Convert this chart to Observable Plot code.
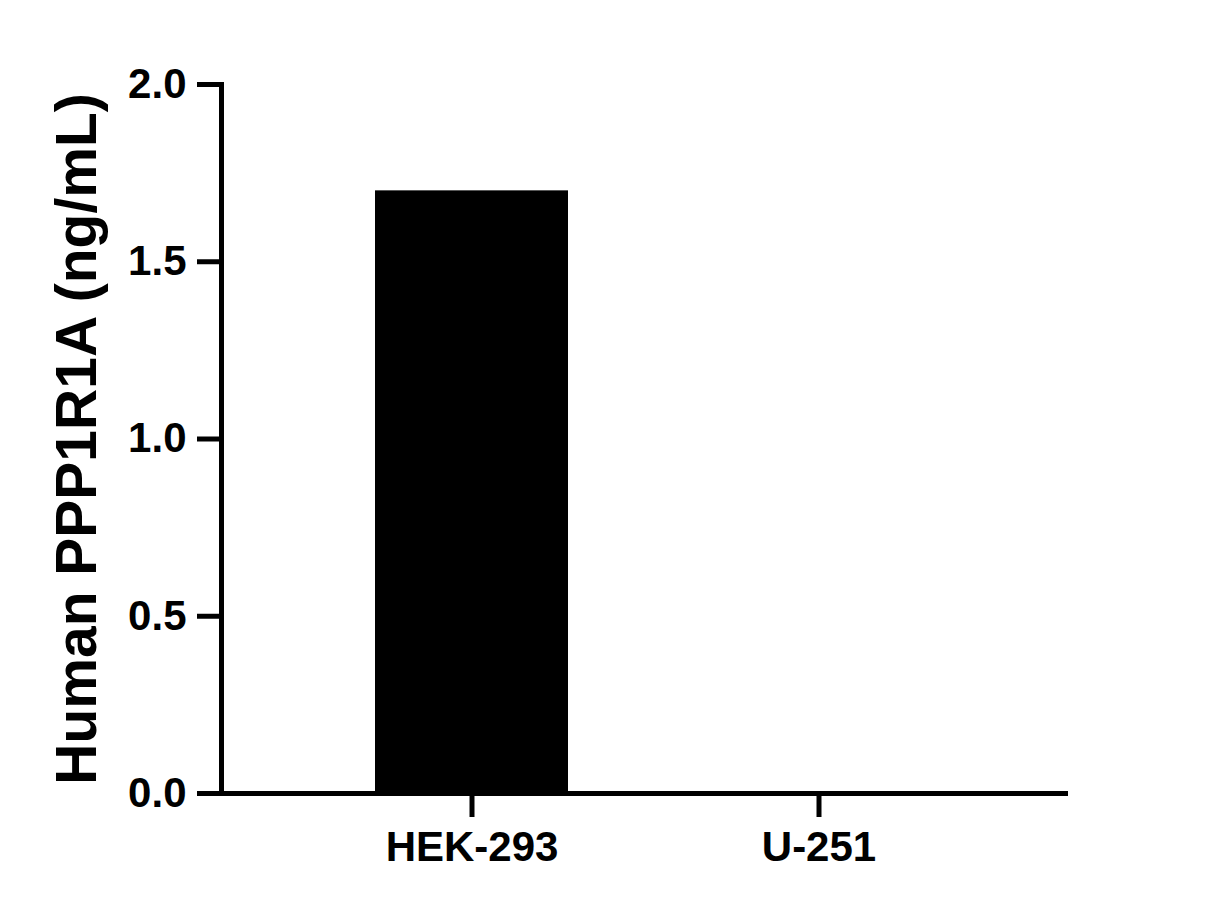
<!DOCTYPE html>
<html>
<head>
<meta charset="utf-8">
<script src="https://cdn.jsdelivr.net/npm/d3@7"></script>
<script src="https://cdn.jsdelivr.net/npm/@observablehq/plot@0.6"></script>
<style>
  html, body { margin: 0; padding: 0; background: #fff; }
  svg { display: block; }
</style>
</head>
<body>
<div id="chart"></div>
<script>
const categories = ["HEK-293", "U-251"];
const values = [1.70, 0.0];
const yTicks = [0, 0.5, 1.0, 1.5, 2.0];
const yLabel = "Human PPP1R1A (ng/mL)";

const data = categories.map((c, i) => ({cat: c, value: values[i]}));
const font = "Liberation Sans, Arial, Helvetica, sans-serif";

const chart = Plot.plot({
  width: 1205,
  height: 909,
  marginLeft: 221,
  marginRight: 137,
  marginTop: 84,
  marginBottom: 116,
  style: {fontFamily: font, fontWeight: "bold", color: "black", background: "white"},
  x: {domain: categories, paddingInner: 0.445, paddingOuter: 0.44},
  y: {domain: [0, 2]},
  marks: [
    Plot.barY(data, {x: "cat", y: "value", fill: "black"}),
    Plot.ruleY([0], {stroke: "black", strokeWidth: 5}),
    Plot.frame({anchor: "left", stroke: "black", strokeWidth: 5}),
    Plot.axisY({ticks: yTicks, tickFormat: d => d.toFixed(1), tickSize: 24, tickPadding: 11,
      fontSize: 42, fontWeight: "bold", strokeWidth: 5, label: null}),
    Plot.axisX({tickSize: 24, tickPadding: 14, fontSize: 42, fontWeight: "bold",
      strokeWidth: 5, label: null}),
    Plot.text([yLabel], {frameAnchor: "left", rotate: -90, dx: -144, fontSize: 57,
      fontWeight: "bold", textAnchor: "middle", fill: "black"})
  ]
});
document.getElementById("chart").appendChild(chart);
</script>
</body>
</html>
